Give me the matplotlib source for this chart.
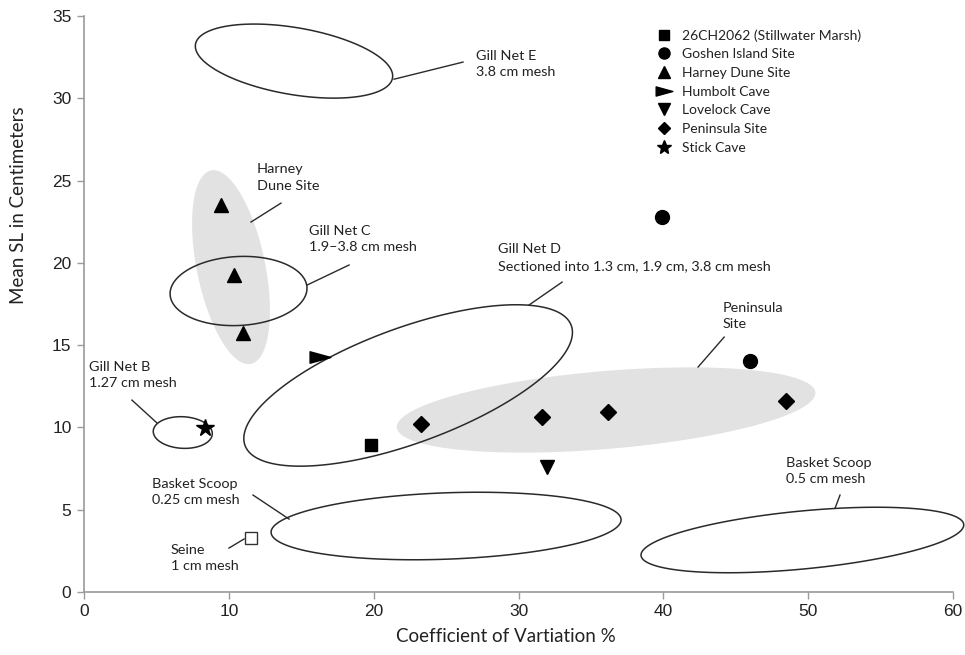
import numpy as np
import matplotlib
matplotlib.use("Agg")
import matplotlib.pyplot as plt
from matplotlib.patches import Polygon
from matplotlib.path import Path

# ---------------- data ----------------
stillwater_x = [19.8]
stillwater_y = [8.93]
goshen_x = [39.9, 46.0]
goshen_y = [22.8, 14.05]
harney_x = [9.44, 10.36, 10.96]
harney_y = [23.5, 19.26, 15.75]
humbolt_x = [16.3]
humbolt_y = [14.26]
lovelock_x = [32.0]
lovelock_y = [7.61]
peninsula_x = [23.3, 31.6, 36.2, 48.5]
peninsula_y = [10.2, 10.61, 10.92, 11.62]
stick_x = [8.36]
stick_y = [9.94]
seine_x = [11.53]
seine_y = [3.26]

series_labels = ["26CH2062 (Stillwater Marsh)", "Goshen Island Site", "Harney Dune Site",
                 "Humbolt Cave", "Lovelock Cave", "Peninsula Site", "Stick Cave"]

# ellipses: centre (x, y), semi-axes (in x-units), screen angle (deg)
net_names = ["Gill Net E", "Gill Net C", "Gill Net B", "Gill Net D",
             "Basket Scoop 0.25", "Basket Scoop 0.5"]
net_cx = [14.5, 10.67, 6.82, 22.38, 25.0, 49.6]
net_cy = [32.26, 18.29, 9.69, 12.55, 4.01, 3.16]
net_a = [6.9, 4.73, 2.04, 12.0, 12.09, 11.19]
net_b = [2.31, 2.38, 1.09, 3.97, 2.29, 2.0]
net_ang = [-9.7, 3.0, -3.0, 20.2, 2.1, 5.5]

site_names = ["Harney Dune Site", "Peninsula Site"]
site_cx = [10.15, 36.05]
site_cy = [19.74, 11.06]
site_a = [6.82, 14.5]
site_b = [2.36, 2.69]
site_ang = [101.6, 4.8]

# annotations: text, text position, leader line start, leader line end
ann_texts = ["Gill Net E\n3.8 cm mesh", "Harney\nDune Site", "Gill Net C\n1.9\u20133.8 cm mesh",
             "Gill Net D\nSectioned into 1.3 cm, 1.9 cm, 3.8 cm mesh", "Peninsula\nSite",
             "Gill Net B\n1.27 cm mesh", "Basket Scoop\n0.25 cm mesh", "Seine\n1 cm mesh",
             "Basket Scoop\n0.5 cm mesh"]
ann_tx = [27.07, 11.95, 15.54, 28.59, 44.06, 0.35, 4.70, 6.01, 48.48]
ann_ty = [32.08, 25.18, 21.45, 20.32, 16.77, 13.18, 6.08, 2.07, 7.35]
lead_x0 = [21.41, 11.53, 15.40, 30.73, 42.40, 3.31, 11.67, 10.01, 51.86]
lead_y0 = [31.16, 22.48, 18.65, 17.44, 13.67, 11.66, 5.89, 2.67, 5.10]
lead_x1 = [26.17, 13.60, 18.30, 33.01, 44.20, 5.04, 14.16, 11.05, 52.20]
lead_y1 = [32.20, 23.63, 19.87, 18.83, 15.49, 10.27, 4.43, 3.22, 5.89]

x_ticks = [0, 10, 20, 30, 40, 50, 60]
y_ticks = [0, 5, 10, 15, 20, 25, 30, 35]

# ---------------- figure ----------------
ANN_FONT = ["Lato", "DejaVu Sans"]
TICK_FONT = ["Liberation Sans", "DejaVu Sans"]
TXT = "#222222"
AX_GRAY = "#9a9a9a"

fig = plt.figure(figsize=(9.65, 6.55), dpi=100)
ax = fig.add_axes([84 / 965, 63 / 655, 869 / 965, 576 / 655])
ax.set_xlim(0, 60)
ax.set_ylim(0, 35)


def ellipse(cx, cy, a, b, ang, **kw):
    t = np.linspace(0, 2 * np.pi, 361)
    p0 = ax.transData.transform((0, 0))
    p1 = ax.transData.transform((1, 0))
    ppx = p1[0] - p0[0]
    c = ax.transData.transform((cx, cy))
    A, B = a * ppx, b * ppx
    th = np.deg2rad(ang)
    X = c[0] + A * np.cos(t) * np.cos(th) - B * np.sin(t) * np.sin(th)
    Y = c[1] + A * np.cos(t) * np.sin(th) + B * np.sin(t) * np.cos(th)
    pts = ax.transData.inverted().transform(np.column_stack([X, Y]))
    poly = Polygon(pts, closed=True, **kw)
    ax.add_patch(poly)
    return poly


for i in range(len(site_names)):
    ellipse(site_cx[i], site_cy[i], site_a[i], site_b[i], site_ang[i],
            facecolor="#e2e2e2", edgecolor="none", zorder=1)

for i in range(len(net_names)):
    ellipse(net_cx[i], net_cy[i], net_a[i], net_b[i], net_ang[i],
            facecolor="none", edgecolor="#2a2a2a", linewidth=1.1, zorder=2,
            clip_on=False)

for i in range(len(ann_texts)):
    ax.plot([lead_x0[i], lead_x1[i]], [lead_y0[i], lead_y1[i]], color="#2a2a2a",
            lw=1.0, zorder=2, clip_on=False)
    ax.text(ann_tx[i], ann_ty[i], ann_texts[i], ha="left", va="center",
            fontsize=10.4, family=ANN_FONT, color=TXT, linespacing=1.45, zorder=3)

humbolt_marker = Path([(-1.0, 0.55), (1.0, 0.0), (-1.0, -0.55), (-1.0, 0.55)],
                      [Path.MOVETO, Path.LINETO, Path.LINETO, Path.CLOSEPOLY])

K = "black"
h = []
h += ax.plot(stillwater_x, stillwater_y, "s", color=K, ms=9, ls="none", zorder=5)
h += ax.plot(goshen_x, goshen_y, "o", color=K, ms=10, ls="none", zorder=5)
h += ax.plot(harney_x, harney_y, "^", color=K, ms=10, ls="none", zorder=5)
h += ax.plot(humbolt_x, humbolt_y, marker=humbolt_marker, color=K, ms=15, ls="none", zorder=5)
h += ax.plot(lovelock_x, lovelock_y, "v", color=K, ms=10, ls="none", zorder=5)
h += ax.plot(peninsula_x, peninsula_y, "D", color=K, ms=8, ls="none", zorder=5)
h += ax.plot(stick_x, stick_y, "*", color=K, ms=13, ls="none", zorder=5)
ax.plot(seine_x, seine_y, "s", mfc="white", mec="#333333", mew=1.0, ms=9, ls="none", zorder=5)

leg = ax.legend(h, series_labels, loc="upper left",
                bbox_to_anchor=(657 / 965, 1 - 29 / 655), bbox_transform=fig.transFigure,
                frameon=False, borderpad=0, borderaxespad=0, handlelength=1.0,
                handletextpad=0.8, labelspacing=0.48, markerscale=0.8,
                prop={"family": ANN_FONT, "size": 10})
for t in leg.get_texts():
    t.set_color(TXT)

# axes styling
for s in ["top", "right"]:
    ax.spines[s].set_visible(False)
for s in ["left", "bottom"]:
    ax.spines[s].set_color(AX_GRAY)
    ax.spines[s].set_linewidth(1.2)
ax.set_xticks(x_ticks)
ax.set_yticks(y_ticks)
ax.tick_params(direction="out", length=5, width=1.0, color=AX_GRAY, pad=4,
               labelsize=12.5, labelcolor=TXT)
for lab in ax.get_xticklabels() + ax.get_yticklabels():
    lab.set_family(TICK_FONT)

fig.text(506 / 965, 1 - 637 / 655, "Coefficient of Vartiation %", ha="center", va="center",
         fontsize=13.5, family=ANN_FONT, color=TXT)
fig.text(19 / 965, 1 - 205 / 655, "Mean SL in Centimeters", ha="center", va="center",
         rotation=90, fontsize=13.5, family=ANN_FONT, color=TXT)

fig.savefig("out.png", dpi=100)
